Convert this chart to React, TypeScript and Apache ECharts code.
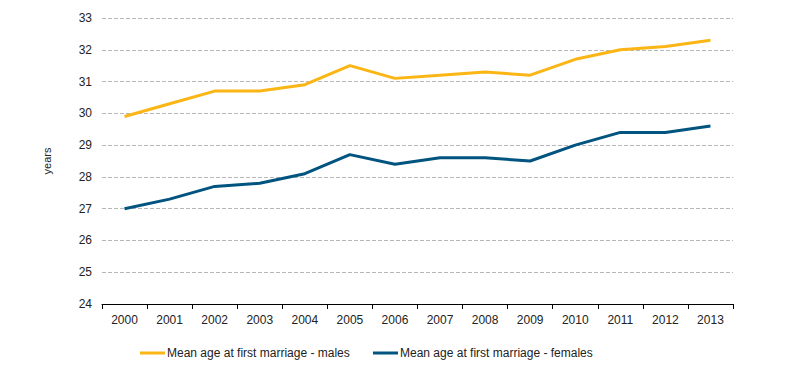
import React, { useEffect, useRef } from "react";
import * as echarts from "echarts";

const years = ["2000","2001","2002","2003","2004","2005","2006","2007","2008","2009","2010","2011","2012","2013"];
const males = [29.9, 30.3, 30.7, 30.7, 30.9, 31.5, 31.1, 31.2, 31.3, 31.2, 31.7, 32.0, 32.1, 32.3];
const females = [27.0, 27.3, 27.7, 27.8, 28.1, 28.7, 28.4, 28.6, 28.6, 28.5, 29.0, 29.4, 29.4, 29.6];
const maleName = "Mean age at first marriage - males";
const femaleName = "Mean age at first marriage - females";

export default function App() {
  const ref = useRef<HTMLDivElement>(null);
  useEffect(() => {
    document.body.style.margin = "0";
    const chart = echarts.init(ref.current!, null, { renderer: "svg" });
    const font = "'Liberation Sans', Arial, sans-serif";
    chart.setOption({
      animation: false,
      textStyle: { fontFamily: font },
      grid: { left: 102, right: 67, top: 18, bottom: 70 },
      legend: [
        {
          left: 140, top: 347, padding: 0, icon: "rect", itemWidth: 25, itemHeight: 3, itemGap: 2,
          data: [maleName],
          textStyle: { fontSize: 12, color: "#222", fontFamily: font, padding: [0, 0, 0, -3] },
        },
        {
          left: 373, top: 347, padding: 0, icon: "rect", itemWidth: 25, itemHeight: 3,
          data: [femaleName],
          textStyle: { fontSize: 12, color: "#222", fontFamily: font, padding: [0, 0, 0, -3] },
        },
      ],
      xAxis: {
        type: "category",
        data: years,
        boundaryGap: true,
        axisLine: { lineStyle: { color: "#000", width: 1 } },
        axisTick: { show: true, length: 5, alignWithLabel: false, lineStyle: { color: "#000" } },
        axisLabel: { color: "#222", fontSize: 12, margin: 10, fontFamily: font },
      },
      yAxis: {
        type: "value",
        min: 24, max: 33, interval: 1,
        name: "years", nameLocation: "middle", nameGap: 50,
        nameTextStyle: { fontSize: 11, color: "#222", fontFamily: font },
        axisLine: { show: false },
        axisTick: { show: false },
        axisLabel: { color: "#222", fontSize: 12, margin: 10, fontFamily: font },
        splitLine: { lineStyle: { color: "#b8b8b8", type: "dashed", width: 1 } },
      },
      series: [
        {
          name: maleName, type: "line", data: males, symbol: "none",
          lineStyle: { color: "#FBB514", width: 3 }, itemStyle: { color: "#FBB514" },
        },
        {
          name: femaleName, type: "line", data: females, symbol: "none",
          lineStyle: { color: "#00547F", width: 3 }, itemStyle: { color: "#00547F" },
        },
      ],
    });
    return () => chart.dispose();
  }, []);
  return <div ref={ref} style={{ width: 800, height: 374 }} />;
}
